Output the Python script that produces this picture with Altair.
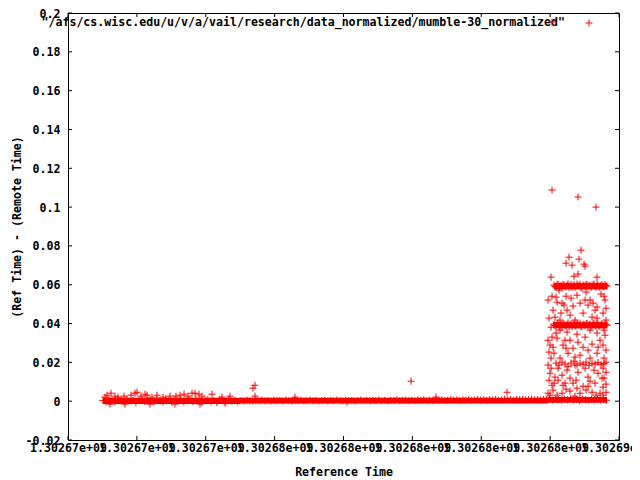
import altair as alt
import pandas as pd

# ---------------- data ----------------
T0 = 1302670000  # seconds; offsets below are relative to this

# solid parts of the dense bands: (start offset, end offset, low, high)
band_segments = [
    (1016, 4995, -0.0015, 0.0018),
    (4995, 13939, -0.0012, 0.0018),
    (13939, 15652, -0.0008, 0.0022),
    (14113, 15652, 0.0577, 0.0608),
    (14084, 15652, 0.0376, 0.0407),
]

# dense band around zero, left part (thicker)
band_left = [
    (1016, 0.0004), (1103, -0.0003), (1190, 0.0009), (1277, 0.0001), (1364, -0.0005),
    (1451, 0.0007), (1538, 0.0002), (1625, -0.0004), (1712, 0.0011), (1799, 0.0000),
    (1886, 0.0006), (1973, -0.0006), (2060, 0.0003), (2147, 0.0010), (2234, -0.0002),
    (2321, 0.0005), (2408, 0.0001), (2495, -0.0005), (2582, 0.0008), (2669, 0.0002),
    (2756, -0.0003), (2843, 0.0012), (2930, 0.0004), (3017, -0.0006), (3104, 0.0007),
    (3191, 0.0000), (3278, 0.0009), (3365, -0.0004), (3452, 0.0003), (3539, 0.0006),
    (3626, -0.0002), (3713, 0.0010), (3800, 0.0001), (3887, -0.0005), (3974, 0.0005),
    (4061, 0.0008), (4148, -0.0001), (4235, 0.0003), (4322, -0.0006), (4409, 0.0009),
    (4496, 0.0002), (4583, -0.0003), (4670, 0.0006), (4757, 0.0000), (4844, 0.0004),
    (4931, -0.0002),
]

# dense band around zero, middle part (thinner)
band_mid = [
    (5024, 0.0003), (5111, 0.0001), (5198, 0.0005), (5285, 0.0002), (5372, 0.0000),
    (5459, 0.0004), (5546, 0.0002), (5633, 0.0006), (5720, 0.0001), (5807, 0.0003),
    (5894, 0.0000), (5981, 0.0005), (6068, 0.0002), (6155, 0.0004), (6242, 0.0001),
    (6329, 0.0006), (6416, 0.0003), (6503, 0.0000), (6590, 0.0004), (6677, 0.0002),
    (6764, 0.0005), (6851, 0.0001), (6938, 0.0003), (7025, 0.0006), (7112, 0.0002),
    (7199, 0.0004), (7286, 0.0000), (7373, 0.0003), (7460, 0.0005), (7547, 0.0001),
    (7634, 0.0004), (7721, 0.0002), (7808, 0.0006), (7895, 0.0003), (7982, 0.0001),
    (8069, 0.0005), (8156, 0.0002), (8243, 0.0004), (8330, 0.0000), (8417, 0.0003),
    (8504, 0.0006), (8591, 0.0002), (8678, 0.0004), (8765, 0.0001), (8852, 0.0005),
    (8939, 0.0003), (9026, 0.0006), (9113, 0.0002), (9200, 0.0004), (9287, 0.0001),
    (9374, 0.0005), (9461, 0.0003), (9548, 0.0007), (9635, 0.0002), (9722, 0.0004),
    (9809, 0.0006), (9896, 0.0003), (9983, 0.0005), (10070, 0.0002), (10157, 0.0006),
    (10244, 0.0004), (10331, 0.0007), (10418, 0.0003), (10505, 0.0005), (10592, 0.0002),
    (10679, 0.0006), (10766, 0.0004), (10853, 0.0007), (10940, 0.0003), (11027, 0.0005),
    (11114, 0.0008), (11201, 0.0004), (11288, 0.0006), (11375, 0.0003), (11462, 0.0007),
    (11549, 0.0005), (11636, 0.0008), (11723, 0.0004), (11810, 0.0006), (11897, 0.0009),
    (11984, 0.0005), (12071, 0.0007), (12158, 0.0004), (12245, 0.0008), (12332, 0.0006),
    (12419, 0.0009), (12506, 0.0005), (12593, 0.0007), (12680, 0.0010), (12767, 0.0006),
    (12854, 0.0008), (12941, 0.0005), (13028, 0.0009), (13115, 0.0007), (13202, 0.0010),
    (13289, 0.0006), (13376, 0.0008), (13463, 0.0011), (13550, 0.0007), (13637, 0.0009),
    (13724, 0.0006), (13811, 0.0010), (13898, 0.0008),
]

# band around zero under the cluster on the right
band_right = [
    (13985, 0.0009), (14072, 0.0006), (14159, 0.0011), (14246, 0.0008), (14333, 0.0005),
    (14420, 0.0010), (14507, 0.0007), (14594, 0.0012), (14681, 0.0006), (14768, 0.0009),
    (14855, 0.0004), (14942, 0.0011), (15029, 0.0008), (15116, 0.0005), (15203, 0.0010),
    (15290, 0.0007), (15377, 0.0012), (15464, 0.0006), (15551, 0.0009), (15638, 0.0005),
]

# scattered points near the zero band
near_zero = [
    (1074, 0.0021), (1133, 0.0031), (1249, 0.0041), (1365, 0.0026), (1452, 0.0021),
    (1626, 0.0026), (1830, 0.0031), (1946, 0.0041), (2004, 0.0046), (2120, 0.0026),
    (2236, 0.0036), (2294, 0.0031), (2439, 0.0021), (2585, 0.0031), (2759, 0.0021),
    (2962, 0.0026), (3136, 0.0026), (3252, 0.0031), (3369, 0.0036), (3485, 0.0026),
    (3601, 0.0041), (3688, 0.0041), (3804, 0.0036), (3891, 0.0026), (4182, 0.0036),
    (4472, 0.0021), (4704, 0.0026), (5372, 0.0067), (5430, 0.0082), (5430, 0.0026),
    (6592, 0.0021), (8102, -0.0005), (9961, 0.0103), (10687, 0.0021), (12749, 0.0046),
    (1220, -0.0015), (1655, -0.0015), (2381, -0.0015), (3107, -0.0015), (3833, -0.0015),
    (4559, -0.0010),
]

# cluster on the right: two dense bands (~0.06 and ~0.04)
cl_even_t = [14113, 14172, 14230, 14288, 14346, 14404, 14462, 14520, 14578,
             14636, 14694, 14752, 14810, 14868, 14927, 14985, 15043, 15101,
             15159, 15217, 15275, 15333, 15391, 15449, 15507, 15565, 15623]
cl_odd_t = [14142, 14201, 14259, 14317, 14375, 14433, 14491, 14549, 14607,
            14665, 14723, 14781, 14839, 14897, 14956, 15014, 15072, 15130,
            15188, 15246, 15304, 15362, 15420, 15478, 15536, 15594, 15652]
band06_even = [0.0598, 0.0588, 0.0603, 0.0593, 0.0583, 0.0598, 0.0590, 0.0605, 0.0593,
               0.0585, 0.0600, 0.0590, 0.0596, 0.0603, 0.0586, 0.0595, 0.0600, 0.0588,
               0.0598, 0.0592, 0.0604, 0.0587, 0.0597, 0.0591, 0.0601, 0.0589, 0.0595]
band06_odd = [0.0591, 0.0600, 0.0586, 0.0596, 0.0602, 0.0589, 0.0597, 0.0585, 0.0601,
              0.0594, 0.0588, 0.0603, 0.0592, 0.0584, 0.0598, 0.0590, 0.0602, 0.0595,
              0.0587, 0.0599, 0.0591, 0.0603, 0.0586, 0.0596, 0.0590, 0.0600, 0.0593]
band04_even = [0.0397, 0.0387, 0.0402, 0.0392, 0.0382, 0.0397, 0.0389, 0.0404, 0.0392,
               0.0384, 0.0399, 0.0389, 0.0395, 0.0402, 0.0385, 0.0394, 0.0399, 0.0387,
               0.0397, 0.0391, 0.0403, 0.0386, 0.0396, 0.0390, 0.0400, 0.0388, 0.0394]
band04_odd = [0.0390, 0.0399, 0.0385, 0.0395, 0.0401, 0.0388, 0.0396, 0.0384, 0.0400,
              0.0393, 0.0387, 0.0402, 0.0391, 0.0383, 0.0397, 0.0389, 0.0401, 0.0394,
              0.0386, 0.0398, 0.0390, 0.0402, 0.0385, 0.0395, 0.0389, 0.0399, 0.0392]

# sparser band near 0.02
band02 = [
    (14172, 0.0196), (14259, 0.0186), (14346, 0.0201), (14433, 0.0191), (14520, 0.0180),
    (14607, 0.0196), (14694, 0.0206), (14781, 0.0186), (14868, 0.0196), (14956, 0.0190),
    (15043, 0.0201), (15130, 0.0185), (15217, 0.0195), (15304, 0.0191), (15391, 0.0200),
    (15478, 0.0188), (15565, 0.0194),
]

# scattered points of the cluster and outliers
cluster_scatter = [
    (14055, 0.1954), (14055, 0.1088), (14810, 0.1052), (15333, 0.1000),
    (14897, 0.0778), (14549, 0.0742), (14839, 0.0732), (14462, 0.0711), (14636, 0.0701),
    (14985, 0.0706), (15014, 0.0696), (14026, 0.0639), (14694, 0.0644), (14810, 0.0655),
    (15362, 0.0639),
    (14172, 0.0536), (14462, 0.0541), (14781, 0.0546), (15478, 0.0552), (14201, 0.0510),
    (14346, 0.0505), (14084, 0.0469), (14404, 0.0495), (14665, 0.0490), (14868, 0.0505),
    (15101, 0.0495), (15362, 0.0485), (15304, 0.0469), (14142, 0.0433), (14317, 0.0454),
    (14578, 0.0443), (14956, 0.0454), (15217, 0.0433), (15536, 0.0454), (15362, 0.0428),
    (14172, 0.0351), (14491, 0.0356), (14781, 0.0345), (15362, 0.0351), (14201, 0.0325),
    (14578, 0.0314), (15014, 0.0330), (15449, 0.0314), (14084, 0.0278), (14375, 0.0289),
    (14665, 0.0273), (14956, 0.0278), (15391, 0.0278), (14113, 0.0247), (14520, 0.0247),
    (14868, 0.0237), (15362, 0.0247), (14026, 0.0222),
    (13997, 0.0144), (14142, 0.0124), (14346, 0.0134), (14578, 0.0119), (14810, 0.0149),
    (15101, 0.0124), (15391, 0.0144), (15507, 0.0119), (14113, 0.0093), (14375, 0.0082),
    (14665, 0.0093), (14956, 0.0077), (15304, 0.0093), (15536, 0.0072), (14084, 0.0057),
    (14346, 0.0041), (14578, 0.0052), (14868, 0.0041), (15217, 0.0046), (15449, 0.0041),
    (13939, 0.0521), (13968, 0.0428), (13939, 0.0314), (13968, 0.0253), (13939, 0.0186),
    (13968, 0.0108), (13939, 0.0041),
    (14259, 0.0572), (15043, 0.0562), (15594, 0.0521), (14491, 0.0469), (15159, 0.0521),
    (14723, 0.0418), (15623, 0.0418), (14288, 0.0366), (15159, 0.0366), (15594, 0.0340),
    (14433, 0.0314), (14810, 0.0304), (15217, 0.0294), (15623, 0.0263), (14288, 0.0222),
    (14723, 0.0227), (15159, 0.0222), (15623, 0.0201), (14230, 0.0170), (14491, 0.0160),
    (15014, 0.0170), (15275, 0.0160), (15623, 0.0149), (14230, 0.0108), (14752, 0.0108),
    (15159, 0.0103), (15623, 0.0088), (14462, 0.0062), (15043, 0.0057), (15623, 0.0046),
    (14201, 0.0031), (14723, 0.0026), (15333, 0.0031),
    (14055, 0.0541), (14026, 0.0381), (14055, 0.0330), (13997, 0.0289), (14026, 0.0170),
    (14055, 0.0082), (13997, 0.0031), (15565, 0.0541), (15623, 0.0479), (15565, 0.0366),
    (15536, 0.0289), (15565, 0.0222), (15536, 0.0170), (15565, 0.0119), (15536, 0.0031),
    (14288, 0.0418), (15014, 0.0521), (14607, 0.0531), (15246, 0.0505), (14462, 0.0273),
    (15101, 0.0263), (14723, 0.0186), (14433, 0.0093), (15101, 0.0077), (14781, 0.0067),
]

x_ticks = [1302670000, 1302672000, 1302674000, 1302676000, 1302678000,
           1302680000, 1302682000, 1302684000, 1302686000]
y_ticks = [-0.02, 0.0, 0.02, 0.04, 0.06, 0.08, 0.1, 0.12, 0.14, 0.16, 0.18, 0.2]
key_label = '"/afs/cs.wisc.edu/u/v/a/vail/research/data_normalized/mumble-30_normalized"'

# ---------------- build tables ----------------
pairs = []
pairs += band_left + band_mid + band_right + near_zero + band02
pairs += list(zip(cl_even_t, band06_even)) + list(zip(cl_odd_t, band06_odd))
pairs += list(zip(cl_even_t, band04_even)) + list(zip(cl_odd_t, band04_odd))
pairs += cluster_scatter
df = pd.DataFrame({"ref_time": [T0 + t for t, _ in pairs], "diff": [v for _, v in pairs]})
seg_df = pd.DataFrame({
    "t0": [T0 + s[0] for s in band_segments],
    "t1": [T0 + s[1] for s in band_segments],
    "lo": [s[2] for s in band_segments],
    "hi": [s[3] for s in band_segments],
})

# ---------------- chart ----------------
W, H = 551, 427
FONT = "DejaVu Sans Mono"
FS = 11.6
TICK = 4
RED = "#ff0000"
PLUS = "M-1,0L1,0M0,-1L0,1"

x_scale = alt.Scale(domain=[x_ticks[0], x_ticks[-1]], nice=False, zero=False)
y_scale = alt.Scale(domain=[-0.02, 0.2], nice=False, zero=False)

common = dict(grid=False, domain=False, ticks=False, labelOverlap=False, labelFlush=False,
              labelFont=FONT, titleFont=FONT, labelFontSize=FS, titleFontSize=FS,
              labelFontWeight="bold", titleFontWeight="bold",
              labelColor="black", titleColor="black")

x_axis = alt.Axis(values=x_ticks, title="Reference Time",
                  labelExpr="format(datum.value / 1e9, '.5f') + 'e+09'",
                  labelPadding=8, labelBaseline="middle",
                  titleY=32, titleBaseline="middle", **common)
y_axis = alt.Axis(values=y_ticks, title="(Ref Time) - (Remote Time)",
                  labelExpr="(datum.value < 0 ? '-' : '') + format(abs(datum.value), '~g')",
                  labelPadding=8, labelOffset=1, titleX=-51, titleY=H / 2,
                  titleBaseline="middle", titleAngle=270, **common)

X = alt.X("ref_time:Q", scale=x_scale, axis=x_axis)
Y = alt.Y("diff:Q", scale=y_scale, axis=y_axis)

xt = pd.DataFrame({"ref_time": x_ticks})
yt = pd.DataFrame({"diff": y_ticks})

tick_b = alt.Chart(xt).mark_rule(color="black", strokeWidth=1).encode(
    x=X, y=alt.value(H), y2=alt.value(H - TICK))
tick_t = alt.Chart(xt).mark_rule(color="black", strokeWidth=1).encode(
    x=X, y=alt.value(0), y2=alt.value(TICK))
tick_l = alt.Chart(yt).mark_rule(color="black", strokeWidth=1).encode(
    y=Y, x=alt.value(0), x2=alt.value(TICK))
tick_r = alt.Chart(yt).mark_rule(color="black", strokeWidth=1).encode(
    y=Y, x=alt.value(W), x2=alt.value(W - TICK))

key_df = pd.DataFrame({"label": [key_label]})
key_text = alt.Chart(key_df).mark_text(
    align="right", baseline="middle", font=FONT, fontSize=FS, fontWeight="bold",
    color="black").encode(x=alt.value(497), y=alt.value(10), text="label:N")
key_sample = alt.Chart(key_df).mark_point(
    shape=PLUS, size=49, filled=False, color=RED, opacity=1, strokeWidth=1
).encode(x=alt.value(521), y=alt.value(10))

bands = alt.Chart(seg_df).mark_rect(color=RED, opacity=1).encode(
    x=alt.X("t0:Q", scale=x_scale, axis=x_axis), x2="t1:Q",
    y=alt.Y("lo:Q", scale=y_scale, axis=y_axis), y2="hi:Q")

points = alt.Chart(df).mark_point(
    shape=PLUS, size=49, filled=False, color=RED, opacity=1, strokeWidth=1
).encode(x=X, y=Y)

chart = alt.layer(tick_b, tick_t, tick_l, tick_r, key_text, key_sample, bands, points).properties(
    width=W, height=H,
    padding={"left": 60, "top": 5, "right": 13, "bottom": 40},
    autosize=alt.AutoSizeParams(type="none"),
    background="white",
).configure_view(stroke="black", strokeWidth=1)

chart.save("out.html", embed_options={"renderer": "svg", "actions": False})
